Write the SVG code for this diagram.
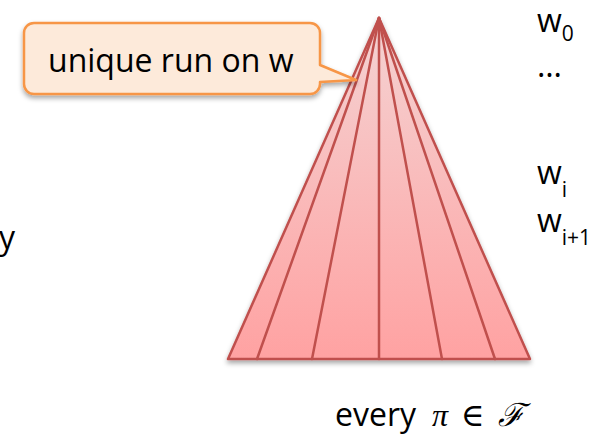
<svg xmlns="http://www.w3.org/2000/svg" width="601" height="435" viewBox="0 0 601 435">
  <defs>
    <linearGradient id="coneFill" x1="0" y1="0" x2="0" y2="1">
      <stop offset="0" stop-color="#F4D3D3"/>
      <stop offset="1" stop-color="#FFA2A2"/>
    </linearGradient>
    <filter id="shadow" x="-10%" y="-10%" width="120%" height="130%">
      <feDropShadow dx="0" dy="3" stdDeviation="2.5" flood-color="#000" flood-opacity="0.35"/>
    </filter>
    <style>
      .lbl { font-family: "Open Sans", "Liberation Sans", sans-serif; font-size: 32px; fill: #000; }
      .sub { font-family: "Open Sans", "Liberation Sans", sans-serif; font-size: 21px; fill: #000; }
      .math { font-family: "Liberation Serif", "DejaVu Serif", serif; font-size: 32px; fill: #000; }
      .run { stroke: #C0504D; stroke-width: 2.5; fill: none; stroke-linecap: round; }
    </style>
  </defs>

  <g id="cone">
    <polygon points="379,18 228,359 530,359" fill="url(#coneFill)" stroke="#C0504D" stroke-width="2.5" stroke-linejoin="round" filter="url(#shadow)"/>
  </g>

  <g id="connectors">
    <line class="run" x1="379" y1="18" x2="257" y2="359"/>
    <line class="run" x1="379" y1="18" x2="312" y2="359"/>
    <line class="run" x1="379" y1="18" x2="379" y2="359"/>
    <line class="run" x1="379" y1="18" x2="442" y2="359"/>
    <line class="run" x1="379" y1="18" x2="495" y2="359"/>
  </g>

  <g id="callout">
    <path d="M34,23 H310 A10,10 0 0 1 320,33 V65 L356,80 L320,82 V84 A10,10 0 0 1 310,94 H34 A10,10 0 0 1 24,84 V33 A10,10 0 0 1 34,23 Z" fill="#FDEADA" stroke="#F79646" stroke-width="2.5" stroke-linejoin="round" filter="url(#shadow)"/>
    <text class="lbl" x="48" y="72">unique run on w</text>
  </g>

  <g id="word-labels">
    <text class="lbl" x="537" y="32">w<tspan class="sub" dy="9">0</tspan></text>
    <text class="lbl" x="537" y="77">…</text>
    <text class="lbl" x="537" y="184">w<tspan class="sub" dy="13">i</tspan></text>
    <text class="lbl" x="537" y="232">w<tspan class="sub" dy="13">i+1</tspan></text>
  </g>

  <g id="left-fragment">
    <text class="lbl" x="-1" y="249">y</text>
  </g>

  <g id="caption">
    <text class="lbl" x="335" y="426">every</text>
    <text class="math" x="432" y="426" font-size="36" font-style="italic">π</text>
    <text class="math" x="461" y="426">∈</text>
    <text class="math" x="498" y="426" font-family="DejaVu Serif, serif" font-style="italic">ℱ</text>
  </g>
</svg>
